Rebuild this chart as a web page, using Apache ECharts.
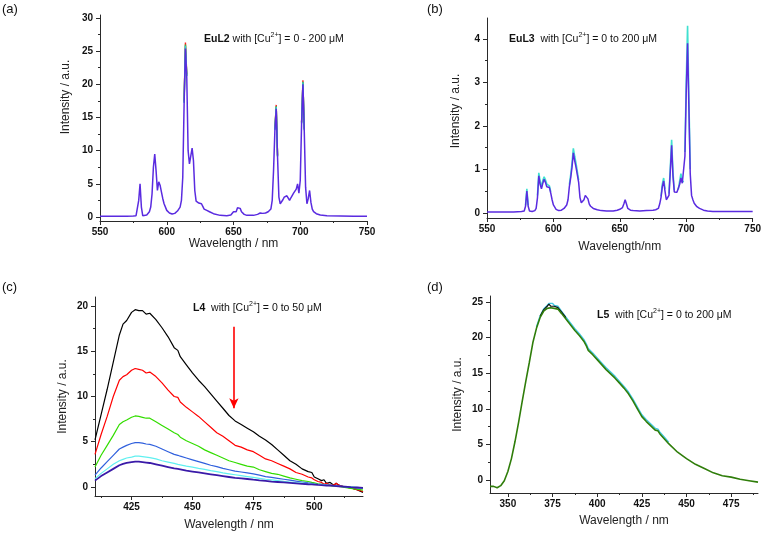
<!DOCTYPE html>
<html><head><meta charset="utf-8">
<script src="https://cdn.jsdelivr.net/npm/echarts@6/dist/echarts.min.js"></script>
<style>html,body{margin:0;padding:0;background:#fff}#c{width:764px;height:534px}</style>
</head><body><div id="c"></div>
<script>
// ---------- Panel (a): EuL2 ----------
const euL2Wl = [550,560,570,575,577,578,579,580,581,582,583,585,587,588,589,590,591,592,593,594,595,596,597,598,600,602,604,606,608,609,610,611,612,613,614,615,616,617,618,619,620,621,622,624,625,626,627,628,630,632,635,640,645,648,650,651,652,653,654,655,656,658,660,665,668,670,672,674,676,678,679,680,681,682,683,684,685,686,687,688,689,690,691,692,693,694,695,696,697,698,699,700,701,702,703,704,705,706,707,708,709,710,712,715,720,730,740,750];
const euL2Int = [0.1,0.1,0.1,0.15,0.2,0.4,2.5,5.0,1.5,0.2,0.15,0.3,0.8,1.5,3.5,7.5,9.5,7.0,4.0,5.3,4.8,3.8,2.8,2.0,1.0,0.6,0.45,0.55,0.9,1.1,1.5,2.5,6,17,25.4,21,10,8.0,8.3,10.4,8.5,4,2.4,2.1,2.1,2.0,1.6,1.2,1.0,0.8,0.5,0.25,0.2,0.3,0.8,0.75,0.8,1.4,1.7,1.3,0.8,0.4,0.25,0.25,0.4,0.6,0.55,0.6,0.8,1.2,2.5,7,13,16.3,9,3,2.0,1.9,2.6,3.0,3.1,3.2,3.0,2.5,2.9,3.2,3.6,3.5,4.2,5.0,3.6,5.5,14,20.0,13,4.5,2.0,2.8,4.0,2.2,1.2,0.8,0.5,0.3,0.2,0.15,0.1,0.1];
const euL2PeakWl = [613,614,615,null,681,682,683,null,701,702,703];
const euL2RedPeak = [17.5,26.3,21.5,null,13.3,16.9,9.3,null,14.3,20.6,13.3];
const euL2GreenPeak = [17.3,26.0,21.3,null,13.2,16.7,9.2,null,14.2,20.4,13.2];
const euL2CyanPeak = [17.2,25.8,21.2,null,13.1,16.6,9.1,null,14.1,20.3,13.1];

// ---------- Panel (b): EuL3 ----------
const euL3Wl = [550,560,570,576,578,579,580,581,582,584,586,587,588,589,590,591,592,593,594,595,596,597,598,599,600,602,604,606,608,610,611,612,613,614,615,616,617,618,619,620,621,622,623,624,625,626,627,628,630,633,636,640,645,648,650,651,652,653,654,655,656,658,660,665,670,675,677,679,680,681,682,683,684,685,686,687,688,689,690,691,692,693,694,695,696,697,698,699,700,701,702,703,704,705,706,708,710,713,716,720,730,740,750];
const euL3Int = [0.02,0.02,0.02,0.03,0.04,0.15,0.5,0.15,0.04,0.03,0.05,0.1,0.35,0.85,0.65,0.55,0.68,0.77,0.7,0.6,0.58,0.58,0.45,0.3,0.18,0.08,0.05,0.06,0.1,0.18,0.3,0.6,0.8,1.05,1.38,1.2,1.05,1.03,0.7,0.35,0.23,0.24,0.3,0.4,0.43,0.32,0.2,0.15,0.1,0.07,0.05,0.04,0.04,0.06,0.08,0.1,0.12,0.2,0.3,0.2,0.1,0.06,0.05,0.04,0.05,0.06,0.07,0.1,0.2,0.35,0.6,0.73,0.5,0.3,0.28,0.4,0.95,1.55,0.85,0.48,0.45,0.47,0.48,0.65,0.8,0.68,0.65,1.3,2.8,3.9,2.4,0.9,0.4,0.3,0.22,0.14,0.1,0.06,0.04,0.03,0.03,0.03,0.03];
const euL3CyanWl = [579,580,581,null,588,589,590,591,592,593,594,595,596,597,598,null,612,613,614,615,616,617,618,619,null,681,682,683,684,null,687,688,689,690,691,null,694,695,696,697,698,null,699,700,701,702,703];
const euL3CyanInt = [0.17,0.55,0.17,null,0.4,0.92,0.72,0.6,0.74,0.83,0.76,0.66,0.63,0.62,0.48,null,0.65,0.87,1.14,1.48,1.3,1.14,1.1,0.75,null,0.38,0.66,0.8,0.55,null,0.44,1.04,1.68,0.93,0.52,null,0.53,0.72,0.9,0.74,0.7,null,1.4,3.0,4.3,2.6,1.0];

// ---------- Panel (c): L4 ----------
const l4Wl = [410,412.5,415,417.5,420,421.5,423,425,426.5,428,429.5,431,432.5,435,437.5,440,442.5,444,445,447.5,450,452.5,455,457.5,460,462.5,465,467.5,470,472.5,475,477.5,480,482.5,485,487.5,490,492.5,495,497.5,499,500,501.5,503,504,505,506.5,508,509,510,512.5,515,517.5,520];
const l4Black = [5.2,8.0,10.8,13.8,16.8,18.0,18.4,19.3,19.6,19.5,19.5,19.1,19.2,18.5,17.6,16.6,15.4,15.1,14.4,13.5,12.6,11.8,11.1,10.3,9.5,8.7,7.9,7.3,6.9,6.5,6.1,5.6,5.2,4.7,4.1,3.5,2.9,2.5,2.0,1.7,1.6,1.1,0.9,0.7,0.8,0.4,0.5,0.2,0.4,0.2,0.0,-0.1,-0.3,-0.6];
const l4Red = [3.6,5.8,7.8,10.0,11.8,12.2,12.4,12.9,13.1,13.0,12.9,12.6,12.7,12.2,11.5,10.7,10.0,9.9,9.4,8.8,8.3,7.8,7.2,6.6,6.0,5.6,5.1,4.6,4.4,4.1,3.9,3.5,3.1,2.9,2.6,2.3,2.0,1.6,1.4,1.1,1.0,0.8,0.6,0.5,0.3,0.4,0.2,0.2,0.4,0.2,0.0,-0.1,-0.3,-0.5];
const l4Green = [2.2,3.5,4.6,5.7,6.9,7.2,7.4,7.7,7.85,7.8,7.7,7.6,7.6,7.2,6.8,6.4,6.0,5.8,5.5,5.1,4.8,4.5,4.1,3.8,3.5,3.2,2.9,2.7,2.5,2.3,2.2,1.9,1.7,1.5,1.4,1.2,1.0,0.85,0.7,0.6,0.5,0.45,0.35,0.3,0.25,0.2,0.15,0.1,0.1,0.05,-0.05,-0.15,-0.25,-0.35];
const l4Blue = [1.3,2.1,2.8,3.5,4.2,4.4,4.6,4.8,4.9,4.9,4.85,4.75,4.7,4.5,4.2,3.9,3.6,3.5,3.4,3.2,3.0,2.8,2.6,2.4,2.25,2.05,1.9,1.75,1.65,1.55,1.45,1.3,1.15,1.05,0.95,0.85,0.75,0.65,0.55,0.45,0.4,0.35,0.3,0.28,0.25,0.22,0.2,0.15,0.12,0.1,0.0,-0.05,-0.1,-0.15];
const l4Cyan = [0.9,1.5,2.0,2.5,2.9,3.05,3.2,3.3,3.4,3.4,3.35,3.3,3.25,3.1,2.9,2.75,2.6,2.5,2.45,2.3,2.2,2.05,1.95,1.8,1.7,1.55,1.45,1.35,1.25,1.15,1.05,0.95,0.85,0.78,0.7,0.62,0.55,0.48,0.42,0.36,0.33,0.3,0.27,0.25,0.23,0.2,0.18,0.15,0.13,0.1,0.05,0.0,-0.05,-0.1];
const l4Purple = [0.7,1.2,1.6,2.0,2.4,2.55,2.65,2.75,2.8,2.8,2.75,2.7,2.65,2.5,2.35,2.2,2.05,2.0,1.95,1.8,1.7,1.6,1.5,1.4,1.3,1.2,1.1,1.0,0.95,0.88,0.8,0.73,0.67,0.6,0.55,0.5,0.45,0.4,0.35,0.3,0.28,0.25,0.22,0.2,0.18,0.16,0.14,0.12,0.1,0.08,0.03,-0.02,-0.06,-0.1];

// ---------- Panel (d): L5 ----------
const l5Wl = [340,342,344,346,348,350,352,354,356,358,360,362,364,366,368,370,372,373,374,375,376,377,378,380,382.5,385,387.5,390,392.5,394,395,397.5,400,402.5,405,407.5,410,412.5,415,417.5,420,422.5,425,427.5,430,432.5,434,435,437.5,440,445,450,455,460,465,470,475,480,485,490];
const l5Green = [-0.9,-0.9,-1.1,-0.8,-0.1,1.2,3.0,5.4,8.1,11.0,13.8,16.5,19.3,21.3,22.8,23.7,24.1,24.3,24.2,24.3,24.1,24.3,24.0,23.4,22.6,21.8,21.0,20.3,19.5,18.8,18.2,17.6,16.9,16.2,15.5,14.9,14.3,13.6,12.9,12.1,11.1,10.0,8.9,8.2,7.6,7.0,6.9,6.5,5.8,5.1,3.9,3.0,2.2,1.6,1.0,0.6,0.4,0.1,-0.1,-0.3];
const l5CyanWl = [366,368,370,372,373,374,375,376,377,378,380,382.5,385,387.5,390,392.5,394,395,397.5,400,402.5,405,407.5,410,412.5,415,417.5,420,422.5,425,427.5,430,432.5,434,435,437.5,440];
const l5Cyan = [21.5,23.0,24.0,24.5,24.8,24.6,24.8,24.5,24.7,24.4,23.7,22.85,22.05,21.25,20.55,19.75,19.05,18.45,17.85,17.15,16.45,15.75,15.15,14.55,13.85,13.15,12.35,11.35,10.25,9.15,8.45,7.85,7.25,7.15,6.75,6.05,5.3];
const l5BlackWl = [368,370,372,373,374,375,376,377,378,380,382.5];
const l5Black = [23.0,23.9,24.4,24.7,24.4,24.6,24.4,24.6,24.2,23.6,22.8];

// ---------- Ticks ----------
const xTicksAB = [550,600,650,700,750];
const xMinorAB = [575,625,675,725];
const yTicksA = [0,5,10,15,20,25,30];
const yMinorA = [2.5,7.5,12.5,17.5,22.5,27.5];
const yTicksB = [0,1,2,3,4];
const yMinorB = [0.5,1.5,2.5,3.5];
const xTicksC = [425,450,475,500];
const xMinorC = [412.5,437.5,462.5,487.5,512.5];
const yTicksC = [0,5,10,15,20];
const yMinorC = [2.5,7.5,12.5,17.5];
const xTicksD = [350,375,400,425,450,475];
const xMinorD = [362.5,387.5,412.5,437.5,462.5,487.5];
const yTicksD = [0,5,10,15,20,25];
const yMinorD = [2.5,7.5,12.5,17.5,22.5];

const FONT = '"Liberation Sans", Arial, sans-serif';
const AX = '#2a2a2a';

function zip(xs, ys) {
  return xs.map((x, i) => (x === null || ys[i] === null) ? ['-', '-'] : [x, ys[i]]);
}

function axisPair(dim, gi, min, max, majors, minors, name, nameGap, namePad) {
  const isX = dim === 'x';
  const main = {
    type: 'value', gridIndex: gi, min: min, max: max,
    axisLine: { show: true, onZero: false, lineStyle: { color: AX, width: 1 } },
    axisTick: { show: true, inside: false, length: 4, customValues: majors, lineStyle: { color: AX, width: 1 } },
    axisLabel: { customValues: majors, fontFamily: FONT, fontWeight: 'bold', fontSize: 10, color: '#111', margin: isX ? 6 : 7 },
    splitLine: { show: false },
    name: name, nameLocation: 'middle', nameGap: nameGap,
    nameTextStyle: { fontFamily: FONT, fontSize: 12, color: '#222', padding: namePad || 0 }
  };
  if (isX) main.position = 'bottom'; else main.position = 'left';
  const minor = {
    type: 'value', gridIndex: gi, min: min, max: max,
    position: isX ? 'bottom' : 'left',
    axisLine: { show: false, onZero: false },
    axisTick: { show: true, inside: false, length: 2, customValues: minors, lineStyle: { color: AX, width: 1 } },
    axisLabel: { show: false },
    splitLine: { show: false }
  };
  return [main, minor];
}

const grids = [
  { left: 100, top: 15, width: 267, height: 206 },
  { left: 487, top: 18, width: 268, height: 200 },
  { left: 95, top: 297, width: 268, height: 199 },
  { left: 490, top: 296, width: 268, height: 197 }
];

const xAxes = [].concat(
  axisPair('x', 0, 550, 750, xTicksAB, xMinorAB, 'Wavelength / nm', 17),
  axisPair('x', 1, 550, 750, xTicksAB, xMinorAB, 'Wavelength/nm', 23),
  axisPair('x', 2, 410, 520, xTicksC, xMinorC, 'Wavelength / nm', 23),
  axisPair('x', 3, 340, 490, xTicksD, xMinorD, 'Wavelength / nm', 22)
);
const yAxes = [].concat(
  axisPair('y', 0, -0.6, 30.45, yTicksA, yMinorA, 'Intensity / a.u.', 28, [0, 0, 0, 42]),
  axisPair('y', 1, -0.12, 4.48, yTicksB, yMinorB, 'Intensity / a.u.', 25, [0, 0, 0, 14]),
  axisPair('y', 2, -1.0, 21.0, yTicksC, yMinorC, 'Intensity / a.u.', 26),
  axisPair('y', 3, -1.83, 25.84, yTicksD, yMinorD, 'Intensity / a.u.', 26)
);

function line(gi, data, color, width, z) {
  return {
    type: 'line', xAxisIndex: gi * 2, yAxisIndex: gi * 2, data: data,
    showSymbol: false, symbol: 'none', connectNulls: false, silent: true,
    lineStyle: { color: color, width: width }, itemStyle: { color: color },
    z: z || 2, animation: false
  };
}

const series = [
  line(0, zip(euL2PeakWl, euL2RedPeak), '#ff2020', 1.4, 1),
  line(0, zip(euL2PeakWl, euL2GreenPeak), '#30c030', 1.4, 1),
  line(0, zip(euL2PeakWl, euL2CyanPeak), '#30d0d0', 1.4, 1),
  line(0, zip(euL2Wl, euL2Int), '#5a2be0', 1.5, 3),

  line(1, zip(euL3CyanWl, euL3CyanInt), '#40e0d0', 1.6, 1),
  line(1, zip(euL3Wl, euL3Int), '#5a2be0', 1.5, 3),

  Object.assign(line(2, zip(l4Wl, l4Black), '#000000', 1.2, 3), {
    markLine: {
      silent: true, symbol: ['none', 'arrow'], symbolSize: [7, 10],
      label: { show: false },
      lineStyle: { color: '#ff0000', width: 1.6, type: 'solid' },
      data: [[{ coord: [467, 17.7] }, { coord: [467, 8.7] }]],
      animation: false
    }
  }),
  line(2, zip(l4Wl, l4Red), '#ff0000', 1.2, 3),
  line(2, zip(l4Wl, l4Green), '#33dd00', 1.2, 3),
  line(2, zip(l4Wl, l4Blue), '#3060dd', 1.2, 3),
  line(2, zip(l4Wl, l4Cyan), '#60f0f0', 1.2, 3),
  line(2, zip(l4Wl, l4Purple), '#3a1aa8', 1.8, 3),

  line(3, zip(l5CyanWl, l5Cyan), '#40c8e0', 1.4, 1),
  line(3, zip(l5BlackWl, l5Black), '#111111', 1.2, 2),
  line(3, zip(l5Wl, l5Green), '#2f7d0a', 1.6, 3)
];

function annot(x, y, bold, rest) {
  return {
    type: 'text', x: x, y: y, silent: true,
    style: {
      text: '{b|' + bold + '}{n|' + rest[0] + '}{s|2+}{n|' + rest[1] + '}',
      verticalAlign: 'middle',
      rich: {
        b: { fontFamily: FONT, fontSize: 10.5, fontWeight: 'bold', fill: '#111', lineHeight: 14 },
        n: { fontFamily: FONT, fontSize: 10.5, fill: '#111', lineHeight: 14 },
        s: { fontFamily: FONT, fontSize: 7, fill: '#111', verticalAlign: 'top', lineHeight: 14 }
      }
    }
  };
}
function panelLabel(x, y, t) {
  return { type: 'text', x: x, y: y, silent: true,
    style: { text: t, font: '13px ' + FONT, fill: '#111', verticalAlign: 'middle' } };
}

const graphic = [
  panelLabel(2, 9, '(a)'), panelLabel(427, 9, '(b)'), panelLabel(2, 287, '(c)'), panelLabel(427, 287, '(d)'),
  annot(204, 39, 'EuL2', [' with [Cu', '] = 0 - 200 \u03bcM']),
  annot(509, 39, 'EuL3', ['  with [Cu', '] = 0 to 200 \u03bcM']),
  annot(193, 308, 'L4', ['  with [Cu', '] = 0 to 50 \u03bcM']),
  annot(597, 315, 'L5', ['  with [Cu', '] = 0 to 200 \u03bcM'])
];

const chart = echarts.init(document.getElementById('c'), null, { renderer: 'canvas' });
chart.setOption({
  animation: false,
  backgroundColor: '#ffffff',
  grid: grids,
  xAxis: xAxes,
  yAxis: yAxes,
  series: series,
  graphic: graphic
});
</script>
</body></html>
